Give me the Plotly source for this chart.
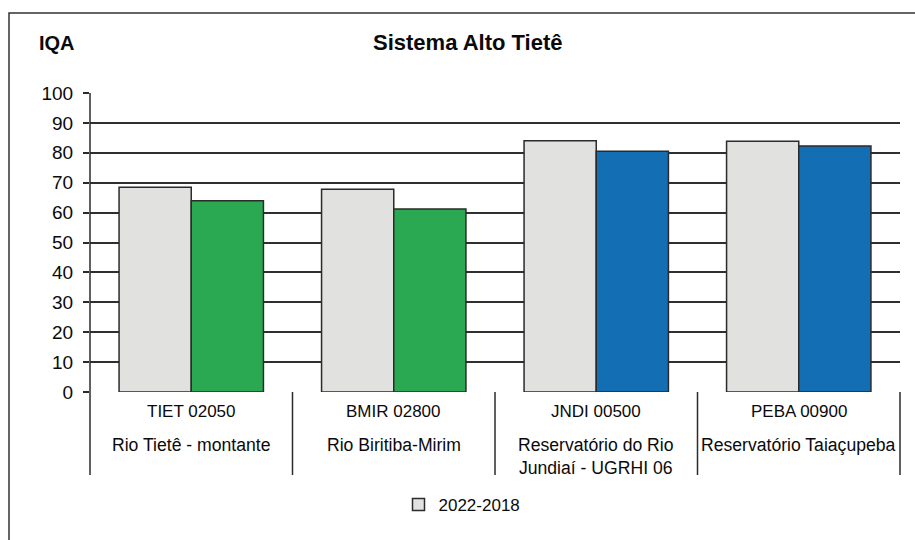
import plotly.graph_objects as go

# IQA by monitoring station, Sistema Alto Tietê
station_codes = ["TIET 02050", "BMIR 02800", "JNDI 00500", "PEBA 00900"]
station_names = [
    "Rio Tietê - montante",
    "Rio Biritiba-Mirim",
    "Reservatório do Rio<br>Jundiaí - UGRHI 06",
    "Reservatório Taiaçupeba",
]
iqa_2022_2018 = [68.5, 67.8, 84.0, 83.9]
iqa_2022 = [64.0, 61.2, 80.5, 82.3]
current_colors = ["#2aa952", "#2aa952", "#146eb4", "#146eb4"]
y_ticks = [0, 10, 20, 30, 40, 50, 60, 70, 80, 90, 100]

W, H = 915, 540
L, R, T, B = 90, 15, 93, 148
PW, PH = W - L - R, H - T - B


def px_x(x):
    return (x - L) / PW


def px_y(y):
    return (H - B - y) / PH


FONT = "Liberation Sans, Arial, sans-serif"
EDGE = "#2b2b2b"
TEXT = "#0a0a0a"

x_idx = list(range(len(station_codes)))

fig = go.Figure()
fig.add_bar(
    x=x_idx, y=iqa_2022_2018, name="2022-2018",
    marker=dict(color="#e1e1e0", line=dict(color=EDGE, width=1.5)),
)
fig.add_bar(
    x=x_idx, y=iqa_2022, name="2022", showlegend=False,
    marker=dict(color=current_colors, line=dict(color=EDGE, width=1.5)),
)

annotations = [
    dict(text="<b>Sistema Alto Tietê</b>", x=px_x(468), y=px_y(43),
         xref="paper", yref="paper", showarrow=False,
         font=dict(size=22, color=TEXT), xanchor="center", yanchor="middle"),
    dict(text="<b>IQA</b>", x=px_x(37), y=px_y(43),
         xref="paper", yref="paper", showarrow=False,
         font=dict(size=20, color=TEXT), xanchor="left", yanchor="middle"),
]
shapes = []
for i, (code, name) in enumerate(zip(station_codes, station_names)):
    annotations.append(dict(text=code, x=i, y=px_y(411), xref="x", yref="paper",
                            showarrow=False, font=dict(size=17, color=TEXT),
                            xanchor="center", yanchor="middle"))
    annotations.append(dict(text=name, x=i, y=px_y(433), xref="x", yref="paper",
                            showarrow=False, font=dict(size=17.6, color=TEXT),
                            xanchor="center", yanchor="top"))
# category separators below the axis
for i in range(len(station_codes) + 1):
    shapes.append(dict(type="line", xref="paper", yref="paper",
                       x0=i / len(station_codes), x1=i / len(station_codes),
                       y0=px_y(392), y1=px_y(475),
                       line=dict(color=EDGE, width=1.5)))
# y axis line
shapes.append(dict(type="line", xref="paper", yref="paper", x0=0, x1=0,
                   y0=0, y1=1, line=dict(color=EDGE, width=1.5)))
# outer frame
shapes.append(dict(type="rect", xref="paper", yref="paper",
                   x0=px_x(9), x1=px_x(930), y0=px_y(13), y1=px_y(560),
                   line=dict(color="#333", width=1.5), layer="below"))

fig.update_layout(
    width=W, height=H,
    margin=dict(l=L, r=R, t=T, b=B),
    paper_bgcolor="white", plot_bgcolor="white",
    font=dict(family=FONT, color=TEXT),
    barmode="group", bargap=0.287, bargroupgap=0,
    xaxis=dict(range=[-0.5, len(station_codes) - 0.5], showticklabels=False,
               showgrid=False, zeroline=False, ticks="", showline=False),
    yaxis=dict(range=[0, 100], tickvals=y_ticks, showgrid=True,
               gridcolor="#2f2f2f", gridwidth=1.6, zeroline=False,
               ticks="outside", ticklen=6, tickcolor=EDGE, tickwidth=1.5,
               ticklabelstandoff=6,
               tickfont=dict(size=19, color=TEXT), showline=False),
    legend=dict(orientation="h", x=px_x(462), y=px_y(505), xanchor="center",
                yanchor="middle", font=dict(size=17, color=TEXT),
                itemwidth=30, bgcolor="rgba(0,0,0,0)"),
    annotations=annotations, shapes=shapes,
    showlegend=True,
)

fig.write_html("out.html")
